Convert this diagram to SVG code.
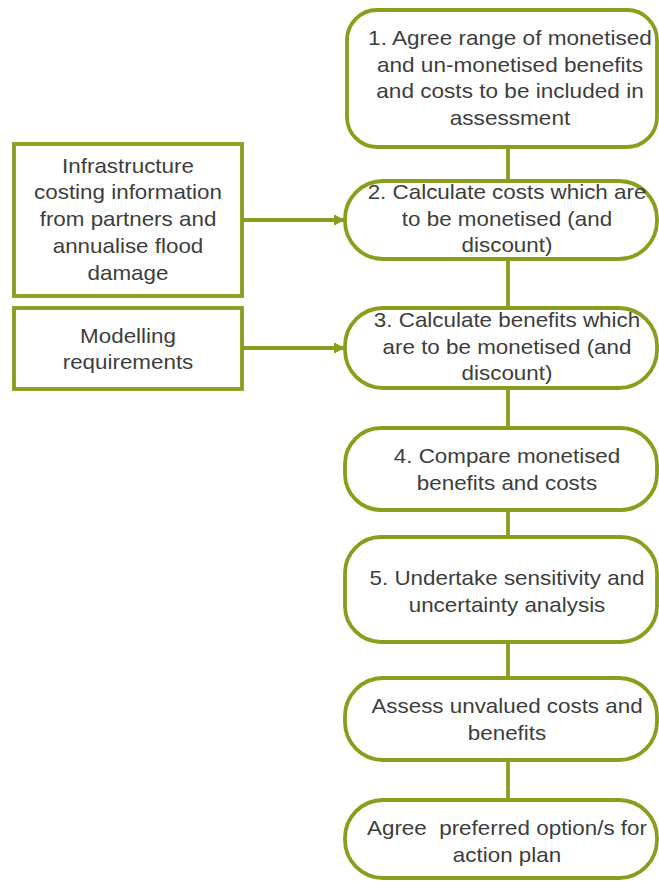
<svg xmlns="http://www.w3.org/2000/svg" width="659" height="881" viewBox="0 0 659 881">
<defs>
<style>
.box{fill:#fff;stroke:#8c9c1b;stroke-width:3.8}
.ln{fill:none;stroke:#8c9c1b;stroke-width:3.8}
.t{font-family:"Liberation Sans",Arial,sans-serif;font-size:20px;fill:#3d3d3d;text-anchor:middle}
</style>
<marker id="ah" viewBox="0 0 10 10" refX="9" refY="5" markerWidth="3" markerHeight="3.2" orient="auto" markerUnits="strokeWidth">
<path d="M0,0 L10,5 L0,10 z" fill="#8c9c1b"/>
</marker>
</defs>
<rect width="659" height="881" fill="#fff"/>
<g id="connectors">
<line class="ln" x1="508" y1="147" x2="508" y2="181"/>
<line class="ln" x1="508" y1="259" x2="508" y2="308"/>
<line class="ln" x1="508" y1="388" x2="508" y2="428"/>
<line class="ln" x1="508" y1="510" x2="508" y2="537"/>
<line class="ln" x1="508" y1="642" x2="508" y2="678"/>
<line class="ln" x1="508" y1="760" x2="508" y2="800"/>
<line class="ln" x1="242" y1="220" x2="344" y2="220" marker-end="url(#ah)"/>
<line class="ln" x1="242" y1="348" x2="344" y2="348" marker-end="url(#ah)"/>
</g>
<g id="step1">
<rect class="box" x="347" y="10" width="310" height="137" rx="30"/>
<g transform="translate(510,0) scale(1.13,1)"><text class="t"><tspan x="0" y="45">1. Agree range of monetised</tspan><tspan x="0" y="72">and un-monetised benefits</tspan><tspan x="0" y="98">and costs to be included in</tspan><tspan x="0" y="125">assessment</tspan></text></g>
</g>
<g id="inputA">
<rect class="box" x="14" y="144" width="228" height="152"/>
<g transform="translate(128,0) scale(1.12,1)"><text class="t"><tspan x="0" y="173">Infrastructure</tspan><tspan x="0" y="199">costing information</tspan><tspan x="0" y="226">from partners and</tspan><tspan x="0" y="253">annualise flood</tspan><tspan x="0" y="280">damage</tspan></text></g>
</g>
<g id="inputB">
<rect class="box" x="14" y="308" width="228" height="81"/>
<g transform="translate(128,0) scale(1.12,1)"><text class="t"><tspan x="0" y="343">Modelling</tspan><tspan x="0" y="369">requirements</tspan></text></g>
</g>
<g id="step2">
<rect class="box" x="345" y="181" width="312" height="78" rx="38"/>
<g transform="translate(507,0) scale(1.12,1)"><text class="t"><tspan x="0" y="199">2. Calculate costs which are</tspan><tspan x="0" y="226">to be monetised (and</tspan><tspan x="0" y="252">discount)</tspan></text></g>
</g>
<g id="step3">
<rect class="box" x="345" y="308" width="312" height="80" rx="38"/>
<g transform="translate(507,0) scale(1.12,1)"><text class="t"><tspan x="0" y="327">3. Calculate benefits which</tspan><tspan x="0" y="354">are to be monetised (and</tspan><tspan x="0" y="380">discount)</tspan></text></g>
</g>
<g id="step4">
<rect class="box" x="345" y="428" width="312" height="82" rx="36"/>
<g transform="translate(507,0) scale(1.12,1)"><text class="t"><tspan x="0" y="463">4. Compare monetised</tspan><tspan x="0" y="490">benefits and costs</tspan></text></g>
</g>
<g id="step5">
<rect class="box" x="345" y="537" width="312" height="105" rx="36"/>
<g transform="translate(507,0) scale(1.12,1)"><text class="t"><tspan x="0" y="585">5. Undertake sensitivity and</tspan><tspan x="0" y="612">uncertainty analysis</tspan></text></g>
</g>
<g id="step6">
<rect class="box" x="345" y="678" width="312" height="82" rx="38"/>
<g transform="translate(507,0) scale(1.12,1)"><text class="t"><tspan x="0" y="713">Assess unvalued costs and</tspan><tspan x="0" y="740">benefits</tspan></text></g>
</g>
<g id="step7">
<rect class="box" x="345" y="800" width="312" height="78" rx="38"/>
<g transform="translate(507,0) scale(1.12,1)"><text class="t" xml:space="preserve"><tspan x="0" y="835">Agree  preferred option/s for</tspan><tspan x="0" y="862">action plan</tspan></text></g>
</g>
</svg>
